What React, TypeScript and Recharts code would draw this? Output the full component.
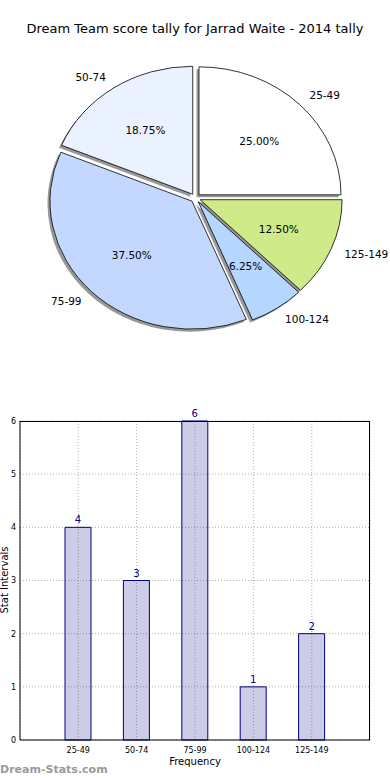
import { PieChart, Pie, BarChart, Bar, XAxis, YAxis, CartesianGrid, LabelList } from 'recharts';

const ranges = ['25-49', '50-74', '75-99', '100-124', '125-149'];
const counts = [4, 3, 6, 1, 2];
const sliceColors = ['#ffffff', '#eaf1ff', '#c4d8ff', '#b4d6ff', '#cfeb89'];
const yTicks = [0, 1, 2, 3, 4, 5, 6];

const FONT = '"DejaVu Sans", sans-serif';
const RX = 142;
const RY = 128;
const EXPLODE = 0.035;

const pieData = ranges.map((r, i) => ({ name: r, value: counts[i], color: sliceColors[i] }));
const barData = ranges.map((r, i) => ({ range: r, count: counts[i] }));

const rad = (d: number) => (d * Math.PI) / 180;

function wedgeGeom(p: any) {
  const mid = (p.startAngle + p.endAngle) / 2;
  const x0 = p.cx + EXPLODE * RX * Math.cos(rad(mid));
  const y0 = p.cy - EXPLODE * RY * Math.sin(rad(mid));
  const sx = x0 + RX * Math.cos(rad(p.startAngle));
  const sy = y0 - RY * Math.sin(rad(p.startAngle));
  const ex = x0 + RX * Math.cos(rad(p.endAngle));
  const ey = y0 - RY * Math.sin(rad(p.endAngle));
  const large = Math.abs(p.endAngle - p.startAngle) > 180 ? 1 : 0;
  const d = `M${x0},${y0} L${sx},${sy} A${RX},${RY} 0 ${large} 0 ${ex},${ey} Z`;
  return { mid, x0, y0, d };
}

// shadow layer, drawn under every wedge
const renderShadow = (p: any) => {
  const g = wedgeGeom(p);
  return (
    <path d={g.d} transform="translate(-2.5,2.5)" fill="#444" fillOpacity={0.55} stroke="none" />
  );
};

const renderWedge = (p: any) => {
  const g = wedgeGeom(p);
  const c = Math.cos(rad(g.mid));
  const s = Math.sin(rad(g.mid));
  return (
    <g>
      <path d={g.d} fill={p.payload.color} stroke="#000" strokeWidth={0.8} />
      <text
        x={g.x0 + 0.6 * RX * c}
        y={g.y0 - 0.6 * RY * s}
        textAnchor="middle"
        dominantBaseline="central"
        fontSize={10.5}
        fontFamily={FONT}
        fill="#000"
      >
        {(p.percent * 100).toFixed(2)}%
      </text>
      <text
        x={g.x0 + 1.1 * RX * c}
        y={g.y0 - 1.1 * RY * s}
        textAnchor={c >= 0 ? 'start' : 'end'}
        dominantBaseline="central"
        fontSize={10.5}
        fontFamily={FONT}
        fill="#000"
      >
        {p.name}
      </text>
    </g>
  );
};

export default function App() {
  return (
    <div style={{ position: 'absolute', left: 0, top: 0, width: 390, height: 780, background: '#fff', fontFamily: FONT }}>
      <div style={{ position: 'absolute', top: 21, width: 390, textAlign: 'center', fontSize: 13, color: '#000' }}>
        Dream Team score tally for Jarrad Waite - 2014 tally
      </div>

      <div style={{ position: 'absolute', left: 0, top: 0 }}>
        <PieChart width={390} height={380} margin={{ top: 0, right: 0, bottom: 0, left: 0 }}>
          <Pie
            data={pieData}
            dataKey="value"
            nameKey="name"
            cx={195.5}
            cy={198}
            outerRadius={RX}
            startAngle={0}
            endAngle={360}
            fill="none"
            stroke="none"
            label={renderShadow}
            labelLine={false}
            isAnimationActive={false}
          />
          <Pie
            data={pieData}
            dataKey="value"
            nameKey="name"
            cx={195.5}
            cy={198}
            outerRadius={RX}
            startAngle={0}
            endAngle={360}
            fill="none"
            stroke="none"
            label={renderWedge}
            labelLine={false}
            isAnimationActive={false}
          />
        </PieChart>
      </div>

      <div style={{ position: 'absolute', left: 0, top: 400 }}>
        <BarChart width={390} height={380} data={barData} margin={{ top: 21, right: 20, left: 0, bottom: 0 }}>
          <CartesianGrid stroke="#b0b0b0" strokeDasharray="1 2" />
          <XAxis
            dataKey="range"
            padding={{ left: 29, right: 29 }}
            height={40}
            stroke="#000"
            tickLine={false}
            tick={{ fontSize: 8, fill: '#000', fontFamily: FONT }}
            tickMargin={1}
            label={{ value: 'Frequency', position: 'insideBottom', offset: 15, fontSize: 10, fill: '#000', fontFamily: FONT }}
          />
          <YAxis
            domain={[0, 6]}
            ticks={yTicks}
            width={20}
            stroke="#000"
            tickSize={0}
            tickMargin={4}
            tick={{ fontSize: 8, fill: '#000', fontFamily: FONT }}
          />
          <Bar dataKey="count" barSize={26} fill="#000080" fillOpacity={0.2} stroke="#000080" strokeWidth={1} isAnimationActive={false}>
            <LabelList dataKey="count" position="top" offset={4} fill="#000080" fontSize={10} fontFamily={FONT} />
          </Bar>
        </BarChart>
      </div>

      {/* top and right edges of the plot frame */}
      <div style={{ position: 'absolute', left: 20, top: 421, width: 350, height: 319, borderTop: '1px solid #000', borderRight: '1px solid #000', boxSizing: 'border-box', pointerEvents: 'none' }} />

      <div style={{ position: 'absolute', left: -3, top: 580, transform: 'translate(-50%, -50%) rotate(-90deg)', transformOrigin: 'center', whiteSpace: 'nowrap', fontSize: 10, color: '#000', marginLeft: 7 }}>
        Stat Intervals
      </div>

      <div style={{ position: 'absolute', left: 0, top: 763, fontSize: 11, fontWeight: 'bold', color: '#9a9a9a' }}>
        Dream-Stats.com
      </div>
    </div>
  );
}
